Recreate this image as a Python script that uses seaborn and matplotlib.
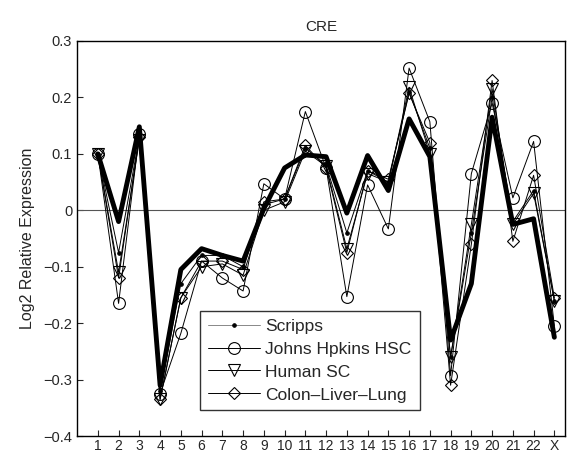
import matplotlib
matplotlib.use("Agg")
import matplotlib.pyplot as plt
import seaborn as sns
import numpy as np
import pandas as pd

categories = [str(i) for i in range(1, 23)] + ["X"]

scripps = [0.10, -0.075, 0.13, -0.32, -0.13, -0.08, -0.08, -0.10, 0.01, 0.02, 0.11, 0.08,
           -0.04, 0.07, 0.05, 0.21, 0.11, -0.26, -0.04, 0.20, -0.02, 0.035, -0.16]
johns_hopkins = [0.10, -0.165, 0.135, -0.325, -0.218, -0.09, -0.12, -0.143, 0.047, 0.02, 0.175, 0.075,
                 -0.153, 0.045, -0.033, 0.252, 0.157, -0.293, 0.065, 0.19, 0.022, 0.122, -0.205]
human_sc = [0.10, -0.11, 0.125, -0.335, -0.155, -0.10, -0.095, -0.115, 0.0, 0.015, 0.105, 0.078,
            -0.068, 0.065, 0.05, 0.218, 0.10, -0.26, -0.025, 0.215, -0.025, 0.03, -0.16]
colon_liver_lung = [0.10, -0.12, 0.13, -0.335, -0.155, -0.09, -0.09, -0.105, 0.015, 0.02, 0.115, 0.075,
                    -0.075, 0.07, 0.055, 0.207, 0.12, -0.31, -0.06, 0.23, -0.055, 0.062, -0.155]
overall = [0.10, -0.02, 0.148, -0.31, -0.105, -0.068, -0.08, -0.09, 0.003, 0.075, 0.098, 0.095,
           -0.005, 0.097, 0.035, 0.162, 0.095, -0.23, -0.13, 0.165, -0.025, -0.015, -0.225]

series_names = ["Scripps", "Johns Hpkins HSC", "Human SC", "Colon\u2013Liver\u2013Lung"]

sns.set_style("ticks")
plt.rcParams['font.family'] = ['Liberation Sans', 'DejaVu Sans']

fig = plt.figure(figsize=(5.84, 4.53), dpi=100)
ax = fig.add_axes([0.132, 0.0375, 0.835, 0.872])

xpos = np.arange(1, len(categories) + 1)
ax.axhline(0, color="#555555", lw=0.8, zorder=1)

sns.lineplot(x=xpos, y=overall, ax=ax, color="black", lw=3.5, legend=False, zorder=2)

styles = [
    (scripps, "o", 2.5, "black"),
    (johns_hopkins, "o", 8.5, "none"),
    (human_sc, "v", 8.5, "none"),
    (colon_liver_lung, "D", 6.5, "none"),
]
for (vals, mk, ms, mfc), name in zip(styles, series_names):
    sns.lineplot(x=xpos, y=vals, ax=ax, color="black", lw=0.7, marker=mk, markersize=ms,
                 markerfacecolor=mfc, markeredgecolor="black", markeredgewidth=0.8,
                 label=name, zorder=3)

ax.set_xlim(0, 23.5)
ax.set_ylim(-0.4, 0.3)
ax.set_xticks(xpos)
ax.set_xticklabels(categories)
ax.set_yticks(np.round(np.arange(-0.4, 0.31, 0.1), 1))
ax.set_yticklabels(["\u22120.4", "\u22120.3", "\u22120.2", "\u22120.1", "0", "0.1", "0.2", "0.3"])
ax.tick_params(direction="in", length=4, labelsize=10.5, top=False, right=False)
ax.tick_params(axis="x", pad=2, labelsize=10)
for s in ax.spines.values():
    s.set_visible(True)
    s.set_linewidth(1.0)
    s.set_color("black")
ax.set_ylabel("Log2 Relative Expression", fontsize=11.5, labelpad=6)
ax.set_xlabel("")
ax.set_title("CRE", fontsize=11, pad=7)

leg = ax.legend(loc="lower left", bbox_to_anchor=(0.235, 0.043), frameon=True, fancybox=False,
                edgecolor="black", fontsize=12.5, handlelength=3.0, borderpad=0.45,
                labelspacing=0.45, handletextpad=0.3)
leg.get_frame().set_linewidth(1.0)
leg.get_lines()[0].set_color("#888888")
leg.get_lines()[0].set_markerfacecolor("black")

fig.savefig("out.png", dpi=100)
